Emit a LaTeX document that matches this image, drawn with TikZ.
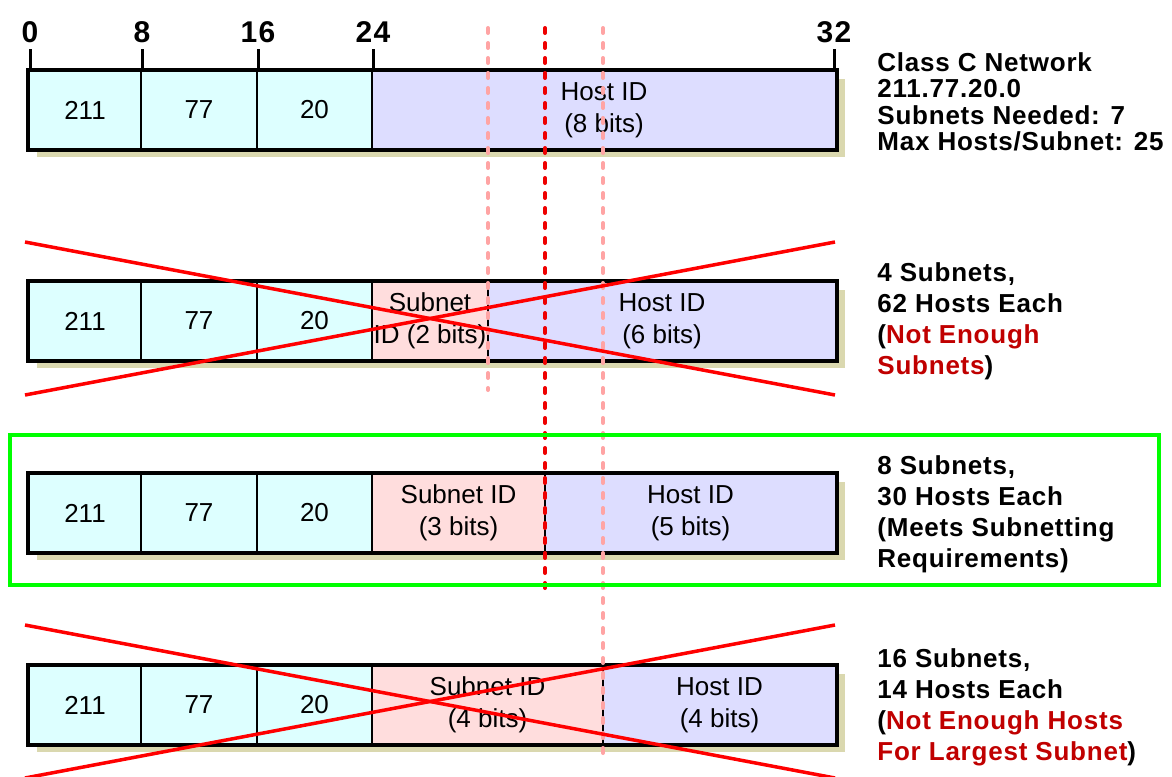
\documentclass[tikz,border=0pt]{standalone}
\usepackage{fontspec}
\setmainfont{Liberation Sans}
\newfontfamily\notefont[LetterSpace=3]{Liberation Sans}
\newfontfamily\netfont[LetterSpace=3]{Liberation Sans}
\newfontfamily\bitfont[LetterSpace=4]{Liberation Sans}
\usepackage{tikz}
\definecolor{cNet}{HTML}{DDFFFF}
\definecolor{cSub}{HTML}{FFDDDD}
\definecolor{cHost}{HTML}{DDDDFF}
\definecolor{cShade}{HTML}{DAD8AF}
\definecolor{cCross}{HTML}{FF0000}
\definecolor{cCut}{HTML}{EE0000}
\definecolor{cCutLight}{HTML}{FFA4A4}
\definecolor{cOk}{HTML}{00FF00}
\definecolor{cWarn}{HTML}{C00000}

\begin{document}
\begin{tikzpicture}[x=0.5pt, y=-0.5pt,
    cellbox/.style={draw=black, line width=0.8pt, minimum height=39pt, inner sep=0pt,
      align=center, font=\fontsize{13}{16}\selectfont},
    barline/.style={draw=black, line width=1.75pt},
    dropshadow/.style={fill=cShade},
    bitlabel/.style={inner sep=0pt, font=\bitfont\bfseries\fontsize{15}{17}\selectfont},
    notetext/.style={anchor=base west, align=left, inner sep=0pt,
      font=\notefont\bfseries\fontsize{13}{15.5}\selectfont},
    crossline/.style={draw=cCross, line width=1.75pt},
    cutline/.style={line width=2pt, line cap=round, dash pattern=on 2.5pt off 5pt},
    okbox/.style={draw=cOk, line width=1.75pt}]
  \useasboundingbox (0,0) rectangle (1172,776);

  \foreach \x/\b in {30/0, 142/8, 258/16, 373/24, 834/32} {
    \node[bitlabel] (t\b) at (\x,32) {\b};
    \draw[line width=1.5pt] (\x,49) -- (\x,71);
  }

  \foreach \y/\r in {110/1, 321/2, 513/3, 705/4} {
    \fill[dropshadow] (37,\y-31) rectangle (845,\y+47);
    \node[cellbox, fill=cNet, minimum width=56pt] (a\r) at (85,\y) {211};
    \node[cellbox, fill=cNet, minimum width=58pt] (b\r) at (199,\y) {77};
    \node[cellbox, fill=cNet, minimum width=57.5pt] (c\r) at (314.5,\y) {20};
  }

  \node[cellbox, fill=cHost, minimum width=232pt] (h1) at (604,110) {Host ID\\(8 bits)};
  \node[cellbox, fill=cSub, minimum width=58pt] (s2) at (430,321) {Subnet\\ID (2 bits)};
  \node[cellbox, fill=cHost, minimum width=174pt] (h2) at (662,321) {Host ID\\(6 bits)};
  \node[cellbox, fill=cSub, minimum width=86.5pt] (s3) at (458.5,513) {Subnet ID\\(3 bits)};
  \node[cellbox, fill=cHost, minimum width=145.5pt] (h3) at (690.5,513) {Host ID\\(5 bits)};
  \node[cellbox, fill=cSub, minimum width=115.5pt] (s4) at (487.5,705) {Subnet ID\\(4 bits)};
  \node[cellbox, fill=cHost, minimum width=116.5pt] (h4) at (719.5,705) {Host ID\\(4 bits)};

  \foreach \r in {1,...,4}
    \draw[barline] (a\r.north west) rectangle (h\r.south east);

  \draw[cutline, cCutLight] (488,28) -- (488,390);
  \draw[cutline, cCut] (545,28) -- (545,590);
  \draw[cutline, cCutLight] (603,28) -- (603,762);

  \draw[crossline] (25,242) -- (835,395);
  \draw[crossline] (25,395) -- (835,242);
  \draw[crossline] (25,625) -- (835,778);
  \draw[crossline] (25,778) -- (835,625);

  \draw[okbox] (10,435) rectangle (1159,585);

  \node[notetext, font=\netfont\bfseries\fontsize{13}{13.15}\selectfont] (n1) at (877,150.5)
    {Class C Network\\211.77.20.0\\Subnets Needed: 7\\Max Hosts/Subnet: 25};
  \node[notetext] (n2) at (877,374.5)
    {4 Subnets,\\62 Hosts Each\\(\textcolor{cWarn}{Not Enough}\\\textcolor{cWarn}{Subnets})};
  \node[notetext] (n3) at (877,567.5)
    {8 Subnets,\\30 Hosts Each\\(Meets Subnetting\\Requirements)};
  \node[notetext] (n4) at (877,760.5)
    {16 Subnets,\\14 Hosts Each\\(\textcolor{cWarn}{Not Enough Hosts}\\\textcolor{cWarn}{For Largest Subnet})};
\end{tikzpicture}
\end{document}
